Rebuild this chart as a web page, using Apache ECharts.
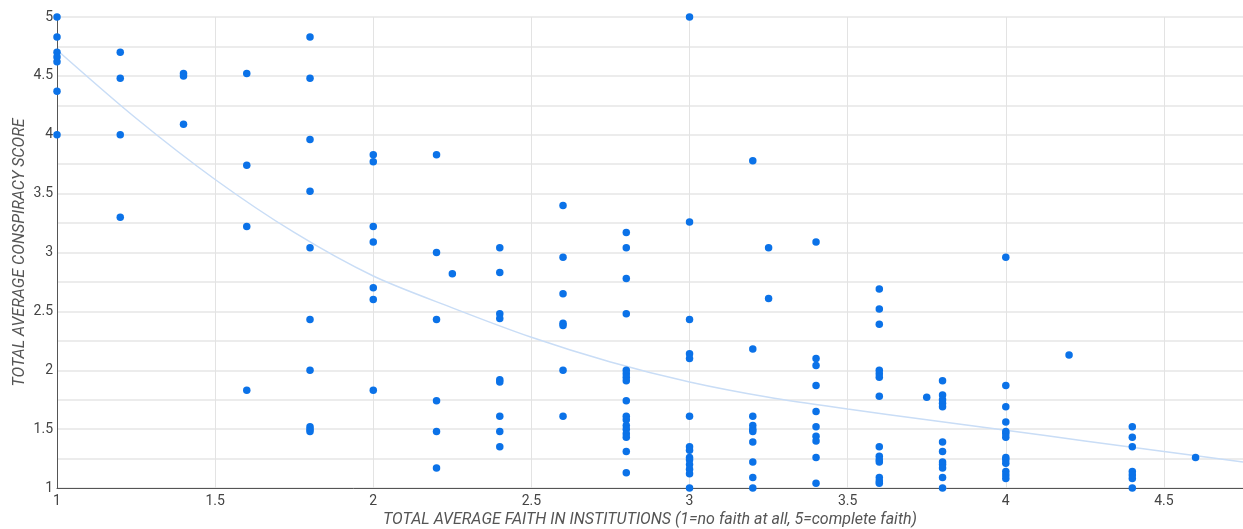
<!DOCTYPE html>
<html>
<head>
<meta charset="utf-8">
<script src="https://cdn.jsdelivr.net/npm/echarts@6/dist/echarts.min.js"></script>
<style>
html,body{margin:0;padding:0;background:#fff;}
#chart{width:1243px;height:529px;}
</style>
</head>
<body>
<div id="chart"></div>
<script>
// Faith in institutions (x) and conspiracy score (y), read column by column
var faith = [
  1,1,1,1,1,1,1,
  1.2,1.2,1.2,1.2,
  1.4,1.4,1.4,
  1.6,1.6,1.6,1.6,
  1.8,1.8,1.8,1.8,1.8,1.8,1.8,1.8,1.8,1.8,
  2,2,2,2,2,2,2,
  2.2,2.2,2.2,2.2,2.2,2.2,
  2.25,
  2.4,2.4,2.4,2.4,2.4,2.4,2.4,2.4,2.4,
  2.6,2.6,2.6,2.6,2.6,2.6,2.6,
  2.8,2.8,2.8,2.8,2.8,2.8,2.8,2.8,2.8,2.8,2.8,2.8,2.8,2.8,2.8,2.8,2.8,
  3,3,3,3,3,3,3,3,3,3,3,3,3,3,
  3.2,3.2,3.2,3.2,3.2,3.2,3.2,3.2,3.2,3.2,
  3.25,3.25,
  3.4,3.4,3.4,3.4,3.4,3.4,3.4,3.4,3.4,3.4,
  3.6,3.6,3.6,3.6,3.6,3.6,3.6,3.6,3.6,3.6,3.6,3.6,3.6,3.6,
  3.75,
  3.8,3.8,3.8,3.8,3.8,3.8,3.8,3.8,3.8,3.8,3.8,3.8,
  4,4,4,4,4,4,4,4,4,4,4,4,4,
  4.2,
  4.4,4.4,4.4,4.4,4.4,4.4,4.4,
  4.6
];
var conspiracy = [
  5.0,4.83,4.7,4.66,4.62,4.37,4.0,
  4.7,4.48,4.0,3.3,
  4.52,4.5,4.09,
  4.52,3.74,3.22,1.83,
  4.83,4.48,3.96,3.52,3.04,2.43,2.0,1.52,1.5,1.48,
  3.83,3.77,3.22,3.09,2.7,2.6,1.83,
  3.83,3.0,2.43,1.74,1.48,1.17,
  2.82,
  3.04,2.83,2.48,2.44,1.92,1.9,1.61,1.48,1.35,
  3.4,2.96,2.65,2.4,2.38,2.0,1.61,
  3.17,3.04,2.78,2.48,2.0,1.97,1.94,1.91,1.74,1.61,1.58,1.53,1.5,1.46,1.43,1.31,1.13,
  5.0,3.26,2.43,2.14,2.1,1.61,1.35,1.32,1.26,1.24,1.2,1.16,1.12,1.0,
  3.78,2.18,1.61,1.53,1.5,1.48,1.39,1.22,1.09,1.0,
  3.04,2.61,
  3.09,2.1,2.04,1.87,1.65,1.52,1.44,1.4,1.26,1.04,
  2.69,2.52,2.39,2.0,1.97,1.94,1.78,1.35,1.27,1.24,1.22,1.09,1.06,1.04,
  1.77,
  1.91,1.79,1.75,1.72,1.69,1.39,1.31,1.22,1.2,1.17,1.09,1.0,
  2.96,1.87,1.69,1.56,1.48,1.46,1.43,1.26,1.24,1.21,1.14,1.11,1.08,
  2.13,
  1.52,1.43,1.35,1.14,1.11,1.08,1.0,
  1.26
];
// Trendline
var trendX = [1,1.25,1.5,1.75,2,2.25,2.5,2.75,3,3.25,3.5,3.75,4,4.25,4.5,4.75];
var trendY = [4.72,4.14,3.62,3.17,2.8,2.53,2.28,2.07,1.9,1.77,1.67,1.58,1.49,1.4,1.31,1.22];

var xTitle = 'TOTAL AVERAGE FAITH IN INSTITUTIONS (1=no faith at all, 5=complete faith)';
var yTitle = 'TOTAL AVERAGE CONSPIRACY SCORE';

var points = faith.map(function(x,i){return [x, conspiracy[i]];});
var trend = trendX.map(function(x,i){return [x, trendY[i]];});

var chart = echarts.init(document.getElementById('chart'), null, {renderer:'canvas'});
var textColor = '#444';
chart.setOption({
  animation:false,
  textStyle:{fontFamily:'Roboto'},
  grid:{left:57, right:0, top:17, bottom:41, containLabel:false, outerBoundsMode:'none'},
  xAxis:{
    type:'value', min:1, max:4.75, interval:0.5,
    name:xTitle, nameLocation:'middle', nameGap:24, nameMoveOverlap:false,
    nameTextStyle:{fontStyle:'italic', color:'#555', fontSize:16, fontFamily:'Roboto'},
    axisLine:{show:true, onZero:false, lineStyle:{color:'#555', width:1}},
    axisTick:{show:false},
    axisLabel:{color:textColor, fontSize:14, margin:6, showMaxLabel:false, fontFamily:'Roboto'},
    splitLine:{show:true, lineStyle:{color:'#e3e3e3', width:1}}
  },
  yAxis:{
    type:'value', min:1, max:5, interval:0.25,
    name:yTitle, nameLocation:'middle', nameGap:29, nameRotate:90, nameMoveOverlap:false,
    nameTextStyle:{fontStyle:'italic', color:'#555', fontSize:16, fontFamily:'Roboto'},
    axisLine:{show:true, onZero:false, lineStyle:{color:'#555', width:1}},
    axisTick:{show:false},
    axisLabel:{color:textColor, fontSize:14, margin:4, fontFamily:'Roboto',
      formatter:function(v){ return (Math.round(v*100)%50===0) ? String(v) : ''; }},
    splitLine:{show:true, lineStyle:{color:'#e6e6e6', width:1.5}}
  },
  series:[
    {
      type:'line', data:trend, smooth:0.3, showSymbol:false, symbol:'none',
      lineStyle:{color:'#c9ddf6', width:1.5}, z:1, silent:true
    },
    {
      type:'scatter', data:points, symbolSize:7.5,
      itemStyle:{color:'#0b72e8', opacity:1}, z:2
    }
  ]
});
</script>
</body>
</html>
